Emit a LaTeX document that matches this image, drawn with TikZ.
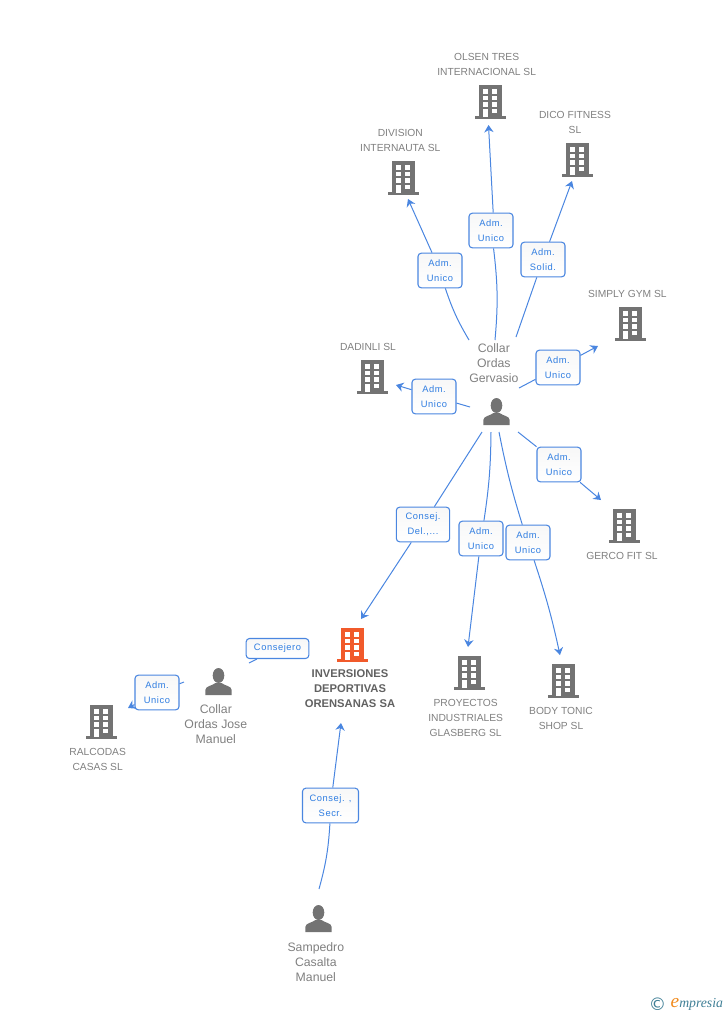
\documentclass[tikz,border=0pt]{standalone}
\usepackage{fontspec}
\setmainfont{Liberation Sans}
\newfontfamily\lblfont[LetterSpace=6]{Liberation Sans}
\newfontfamily\logofont{Liberation Serif}
\newfontfamily\symfont{DejaVu Sans}
\usetikzlibrary{arrows.meta, positioning}
\definecolor{linkblue}{HTML}{4A86E0}
\definecolor{textblue}{HTML}{2F7DE1}
\definecolor{icongray}{HTML}{737373}
\definecolor{capgray}{HTML}{808080}
\definecolor{mainorange}{HTML}{F15A2B}
\definecolor{logoteal}{HTML}{3F7F96}
\definecolor{logoorange}{HTML}{F08A1D}

\begin{document}
\begin{tikzpicture}[
    x=0.75pt, y=-0.75pt,
    iconbox/.style={inner sep=0pt, minimum width=24pt, minimum height=25.5pt},
    company/.style={inner sep=0pt, align=center, text=capgray, font=\fontsize{7.7}{11.25}\selectfont},
    companymain/.style={inner sep=0pt, align=center, text=black!62, font=\bfseries\fontsize{8.4}{11.25}\selectfont},
    person/.style={inner sep=0pt, align=center, text=capgray, font=\fontsize{9.2}{11.25}\selectfont},
    role/.style={draw=linkblue, line width=0.8pt, rounded corners=2.5pt, top color=black!3, bottom color=white, align=center, text=textblue, inner sep=0pt, minimum width=33pt, minimum height=26pt, font=\lblfont\fontsize{7}{11.25}\selectfont},
    link/.style={draw=linkblue, line width=0.75pt},
    arrow/.style={link, -{Stealth[length=5.5pt, width=7pt]}},
    pics/building/.style={code={
        \fill[#1] (-11,-17) rectangle (12,15);
        \fill[#1] (-15.5,14) rectangle (16,17);
        \foreach \wy in {-12.7,-6.3,0.3,7} {
            \fill[white] (-7.3,\wy) rectangle (-2.3,\wy+4.3);
            \fill[white] (2.3,\wy) rectangle (7.3,\wy+4.3);
        }
        \fill[white] (-7.3,7) rectangle (-2.3,14.7);
    }},
    pics/silhouette/.style={code={
        \fill[icongray] (0,-6.5) ellipse (5.8 and 7.5);
        \fill[icongray] (-13.2,13) -- (-13.2,8) .. controls (-13,4) and (-7,4) .. (-3,1) -- (3,1) .. controls (7,4) and (13,4) .. (13.2,8) -- (13.2,13) -- cycle;
    }}
]
\path[use as bounding box] (0,0) rectangle (728,1015);

% empresas
\foreach \name/\x/\y in {olsen/490/102, division/403/178, dico/577/160, simply/630/324, dadinli/372/377, gerco/624/526, proyectos/469/673, body/563/681, ralcodas/101/722} {
    \node[iconbox] (\name) at (\x,\y) {};
    \pic at (\name) {building=icongray};
}
\node[iconbox] (inversiones) at (352,645) {};
\pic at (inversiones) {building=mainorange};

% personas
\foreach \name/\x/\y in {gervasio/496.5/412, jose/218.5/682, sampedro/318.5/919} {
    \node[iconbox, minimum height=27pt] (\name) at (\x,\y) {};
    \pic at (\name) {silhouette};
}

% textos
\node[company, above=6.5pt of olsen, xshift=-2.5pt] (olsentxt) {OLSEN TRES\\INTERNACIONAL SL};
\node[company, above=6.8pt of division, xshift=-2pt] (divisiontxt) {DIVISION\\INTERNAUTA SL};
\node[company, above=6.8pt of dico, xshift=-1.5pt] (dicotxt) {DICO FITNESS\\SL};
\node[company, above=6.8pt of simply, xshift=-2pt] (simplytxt) {SIMPLY GYM SL};
\node[company, above=6.8pt of dadinli, xshift=-3pt] (dadinlitxt) {DADINLI SL};
\node[company, below=6.8pt of gerco, xshift=-1.5pt] (gercotxt) {GERCO FIT SL};
\node[company, below=6.8pt of proyectos, xshift=-2.5pt] (proyectostxt) {PROYECTOS\\INDUSTRIALES\\GLASBERG SL};
\node[company, below=6.8pt of body, xshift=-1.5pt] (bodytxt) {BODY TONIC\\SHOP SL};
\node[company, below=6.8pt of ralcodas, xshift=-2.5pt] (ralcodastxt) {RALCODAS\\CASAS SL};
\node[companymain, below=5pt of inversiones, xshift=-1.5pt] (inversionestxt) {INVERSIONES\\DEPORTIVAS\\ORENSANAS SA};
\node[person, above=7.8pt of gervasio, xshift=-2pt] (gervasiotxt) {Collar\\Ordas\\Gervasio};
\node[person, below=3.2pt of jose, xshift=-2pt] (josetxt) {Collar\\Ordas Jose\\Manuel};
\node[person, below=4pt of sampedro, xshift=-2pt] (sampedrotxt) {Sampedro\\Casalta\\Manuel};

% cargos
\node[role] (rdivision) at (440,270.5) {Adm.\\Unico};
\node[role] (rolsen) at (491,230.5) {Adm.\\Unico};
\node[role] (rdico) at (543,259.5) {Adm.\\Solid.};
\node[role] (rsimply) at (558,367.5) {Adm.\\Unico};
\node[role] (rdadinli) at (434,396.5) {Adm.\\Unico};
\node[role] (rgerco) at (559,464.5) {Adm.\\Unico};
\node[role, minimum width=40pt] (rinver) at (423,524.5) {Consej.\\Del.,...};
\node[role] (rproy) at (481,538.5) {Adm.\\Unico};
\node[role] (rbody) at (528,542.5) {Adm.\\Unico};
\node[role, minimum width=47pt, minimum height=15pt] (rjose) at (277.5,648.5) {Consejero};
\node[role] (rralc) at (157,692.5) {Adm.\\Unico};
\node[role, minimum width=42pt] (rsamp) at (330.5,805.5) {Consej. ,\\Secr.};

% extremos libres
\coordinate (g1) at (469,340);
\coordinate (g2) at (495,340);
\coordinate (g3) at (516,337);
\coordinate (g4) at (519,388);
\coordinate (g5) at (470,407);
\coordinate (g6) at (482,432);
\coordinate (g7) at (491,432);
\coordinate (g8) at (499,432);
\coordinate (g9) at (518,432);
\coordinate (j1) at (249,663);
\coordinate (j2) at (184,682);
\coordinate (s1) at (319,889);
\coordinate (tdivision) at (408,199);
\coordinate (tolsen) at (488.5,125);
\coordinate (tdico) at (572,181);
\coordinate (tsimply) at (598,346);
\coordinate (tdadinli) at (396,385);
\coordinate (tgerco) at (601,500);
\coordinate (tinver) at (361,619);
\coordinate (tproy) at (468,647);
\coordinate (tbody) at (560,655);
\coordinate (tralc) at (128,708);
\coordinate (tsamp) at (341,723);

% lineas
\draw[link] (g1) to[bend left=6] (rdivision);
\draw[arrow] (rdivision) -- (tdivision);
\draw[link] (g2) to[bend right=6] (rolsen);
\draw[arrow] (rolsen.83) -- (tolsen);
\draw[link] (g3) -- (rdico);
\draw[arrow] (rdico) -- (tdico);
\draw[link] (g4) -- (rsimply);
\draw[arrow] (rsimply) -- (tsimply);
\draw[link] (g5) -- (rdadinli);
\draw[arrow] (rdadinli) -- (tdadinli);
\draw[link] (g9) -- (rgerco);
\draw[arrow] (rgerco) -- (tgerco);
\draw[link] (g6) -- (rinver);
\draw[arrow] (rinver) -- (tinver);
\draw[link] (g7) to[bend left=4] (rproy);
\draw[arrow] (rproy) -- (tproy);
\draw[link] (g8) to[bend right=3] (rbody);
\draw[arrow] (rbody) to[bend left=3] (tbody);
\draw[link] (j1) -- (rjose);
\draw[link] (j2) -- (rralc);
\draw[arrow] (rralc) -- (tralc);
\draw[link] (s1) to[bend right=6] (rsamp);
\draw[arrow] (rsamp) -- (tsamp);

% logo
\node[inner sep=0pt, text=logoteal, font=\symfont\fontsize{13}{13}\selectfont] (logoc) at (657.5,1004) {©};
\node[inner sep=0pt, right=3pt of logoc, text=logoteal, font=\logofont\itshape\fontsize{10.3}{10.3}\selectfont] (logotxt) {{\color{logoorange}\fontsize{14.5}{14.5}\selectfont e}mpresia};
\end{tikzpicture}
\end{document}
